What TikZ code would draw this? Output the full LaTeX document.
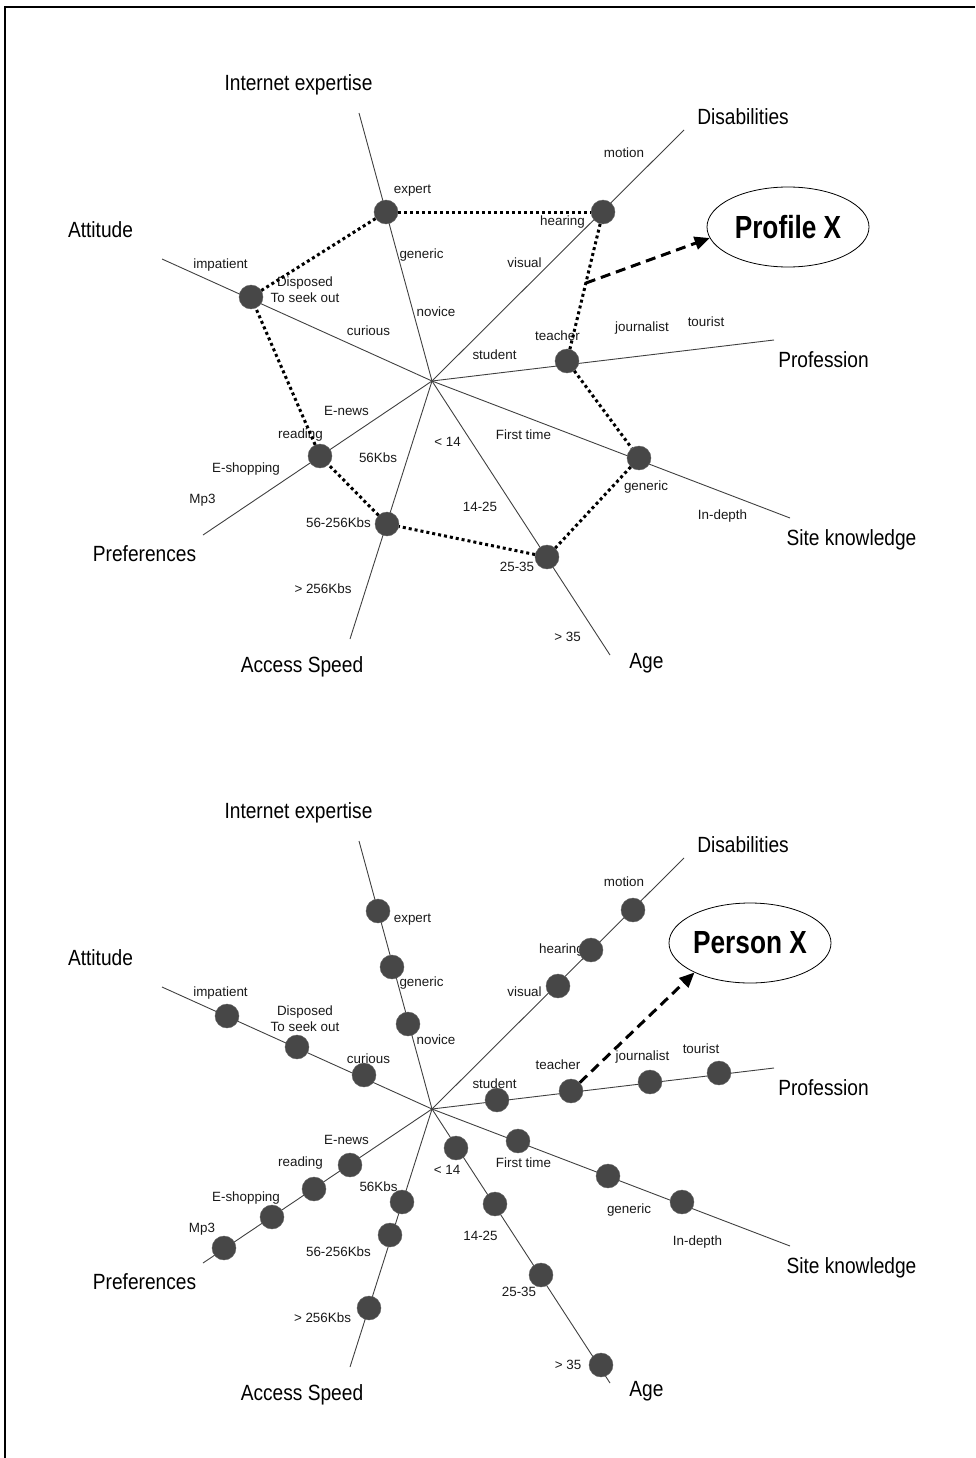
\documentclass[tikz,border=0pt]{standalone}
\usepackage{fontspec}
\setmainfont{Liberation Sans}
\newfontfamily\narrowfont[FakeStretch=0.87]{Liberation Sans}
\newfontfamily\titlefont[FakeStretch=0.82]{Liberation Sans}
\usetikzlibrary{shapes.geometric,arrows.meta,calc}
\begin{document}
\begin{tikzpicture}[x=1pt,y=-1pt,
  axis/.style={draw=black!75,line width=0.9pt},
  dot/.style={circle,fill=black!72,draw=black!60,line width=0.4pt,minimum size=24pt,inner sep=0pt},
  small/.style={font=\fontsize{13.4}{16}\selectfont,inner sep=0pt,text=black!90,align=center},
  big/.style={font=\narrowfont\fontsize{22}{26}\selectfont,inner sep=0pt},
  profile/.style={ellipse,draw,line width=0.8pt,minimum width=162pt,minimum height=80pt,inner sep=0pt,
    font=\titlefont\bfseries\fontsize{32}{36}\selectfont},
  link/.style={line width=3pt,dash pattern=on 3pt off 3pt},
  pointer/.style={line width=3pt,dash pattern=on 10pt off 6pt,-{Triangle[length=15pt,width=13pt]}}
]
\useasboundingbox (0,0) rectangle (975,1458);
% frame
\draw[line width=2pt] (5,1458) -- (5,7) -- (975,7);

% ---------- upper diagram: user profile ----------
\begin{scope}
\coordinate (aC) at (432,381);
\coordinate (aIE) at (359,113);
\coordinate (aDI) at (684,130);
\coordinate (aPR) at (774,340);
\coordinate (aSK) at (790,518);
\coordinate (aAG) at (610,655);
\coordinate (aAS) at (350,639);
\coordinate (aPF) at (203,535);
\coordinate (aAT) at (162,259);
\foreach \e in {IE,DI,PR,SK,AG,AS,PF,AT} \draw[axis] (aC) -- (a\e);

\node[big] (aLie) at (298.5,85) {Internet expertise};
\node[big] (aLdi) at (743,117) {Disabilities};
\node[big] (aLat) at (100.5,230) {Attitude};
\node[big] (aLpr) at (823.5,360) {Profession};
\node[big] (aLsk) at (851.5,540) {Site knowledge};
\node[big] (aLag) at (646.5,663) {Age};
\node[big] (aLas) at (302,667) {Access Speed};
\node[big] (aLpf) at (144.5,554) {Preferences};

\node[small] (a1) at (624,153) {motion};
\node[small] (a2) at (412.5,191) {expert};
\node[small] (a3) at (562.5,222) {hearing};
\node[small] (a4) at (421.5,255) {generic};
\node[small] (a5) at (524.5,263) {visual};
\node[small] (a6) at (220.5,265) {impatient};
\node[small] (a7) at (305,290) {Disposed\\To seek out};
\node[small] (a8) at (436,312) {novice};
\node[small] (a9) at (368.5,331) {curious};
\node[small] (a10) at (557.5,336) {teacher};
\node[small] (a11) at (494.5,355) {student};
\node[small] (a12) at (642,328) {journalist};
\node[small] (a13) at (706,322) {tourist};
\node[small] (a14) at (346.5,411) {E-news};
\node[small] (a15) at (300.5,435) {reading};
\node[small] (a16) at (447.5,442) {< 14};
\node[small] (a17) at (378,458) {56Kbs};
\node[small] (a18) at (246,469) {E-shopping};
\node[small] (a19) at (523.5,435) {First time};
\node[small] (a20) at (646,487) {generic};
\node[small] (a21) at (202.5,500) {Mp3};
\node[small] (a22) at (480,507) {14-25};
\node[small] (a23) at (722.5,516) {In-depth};
\node[small] (a24) at (338.5,523) {56-256Kbs};
\node[small] (a25) at (517,567) {25-35};
\node[small] (a26) at (323,589) {> 256Kbs};
\node[small] (a27) at (567.5,637) {> 35};

\node[dot] (aEx) at (386,212) {};
\node[dot] (aHe) at (603,212) {};
\node[dot] (aIm) at (251,297) {};
\node[dot] (aTe) at (567,361) {};
\node[dot] (aRe) at (320,456) {};
\node[dot] (aSp) at (387,524) {};
\node[dot] (aAg) at (547,557) {};
\node[dot] (aGe) at (639,458) {};

\draw[link] (aEx) -- (aHe);
\draw[link] (aHe) -- (aTe);
\draw[link] (aTe) -- (aGe);
\draw[link] (aGe) -- (aAg);
\draw[link] (aAg) -- (aSp);
\draw[link] (aSp) -- (aRe);
\draw[link] (aRe) -- (aIm);
\draw[link] (aIm) -- (aEx);

\node[profile] (aPX) at (788,227) {Profile X};
\coordinate (aM) at ($(aHe)!0.477!(aTe)$);
\draw[pointer] (aM) -- (aPX.188);
\end{scope}

% ---------- lower diagram: individual user ----------
\begin{scope}[shift={(0,728)}]
\coordinate (bC) at (432,381);
\coordinate (bIE) at (359,113);
\coordinate (bDI) at (684,130);
\coordinate (bPR) at (774,340);
\coordinate (bSK) at (790,518);
\coordinate (bAG) at (610,655);
\coordinate (bAS) at (350,639);
\coordinate (bPF) at (203,535);
\coordinate (bAT) at (162,259);
\foreach \e in {IE,DI,PR,SK,AG,AS,PF,AT} \draw[axis] (bC) -- (b\e);

\node[big] (bLie) at (298.5,85) {Internet expertise};
\node[big] (bLdi) at (743,117) {Disabilities};
\node[big] (bLat) at (100.5,230) {Attitude};
\node[big] (bLpr) at (823.5,360) {Profession};
\node[big] (bLsk) at (851.5,540) {Site knowledge};
\node[big] (bLag) at (646.5,663) {Age};
\node[big] (bLas) at (302,667) {Access Speed};
\node[big] (bLpf) at (144.5,554) {Preferences};

\node[small] (b1) at (624,154) {motion};
\node[small] (b2) at (412.5,192) {expert};
\node[small] (b3) at (561.5,222) {hearing};
\node[small] (b4) at (421.5,255) {generic};
\node[small] (b5) at (524.5,264) {visual};
\node[small] (b6) at (220.5,265) {impatient};
\node[small] (b7) at (305,291) {Disposed\\To seek out};
\node[small] (b8) at (436,312) {novice};
\node[small] (b9) at (368.5,331) {curious};
\node[small] (b10) at (558,337) {teacher};
\node[small] (b11) at (494.5,356) {student};
\node[small] (b12) at (642.5,329) {journalist};
\node[small] (b13) at (701,321) {tourist};
\node[small] (b14) at (346.5,412) {E-news};
\node[small] (b15) at (300.5,435) {reading};
\node[small] (b16) at (447,442) {< 14};
\node[small] (b17) at (378.5,459) {56Kbs};
\node[small] (b18) at (246,470) {E-shopping};
\node[small] (b19) at (523.5,435) {First time};
\node[small] (b20) at (629,482) {generic};
\node[small] (b21) at (202,501) {Mp3};
\node[small] (b22) at (480.5,508) {14-25};
\node[small] (b23) at (697.5,514) {In-depth};
\node[small] (b24) at (338.5,524) {56-256Kbs};
\node[small] (b25) at (519,564) {25-35};
\node[small] (b26) at (322.5,590) {> 256Kbs};
\node[small] (b27) at (568,637) {> 35};

% values on each axis
\node[dot] (bIe1) at (378,183) {};
\node[dot] (bIe2) at (392,239) {};
\node[dot] (bIe3) at (408,296) {};
\node[dot] (bAt1) at (227,288) {};
\node[dot] (bAt2) at (297,319) {};
\node[dot] (bAt3) at (364,347) {};
\node[dot] (bDi1) at (633,182) {};
\node[dot] (bDi2) at (591,222) {};
\node[dot] (bDi3) at (558,258) {};
\node[dot] (bPr1) at (497,372) {};
\node[dot] (bPr2) at (571,363) {};
\node[dot] (bPr3) at (650,354) {};
\node[dot] (bPr4) at (719,345) {};
\node[dot] (bPf1) at (350,437) {};
\node[dot] (bPf2) at (314,461) {};
\node[dot] (bPf3) at (272,489) {};
\node[dot] (bPf4) at (224,520) {};
\node[dot] (bAs1) at (402,474) {};
\node[dot] (bAs2) at (390,507) {};
\node[dot] (bAs3) at (369,580) {};
\node[dot] (bAg1) at (456,420) {};
\node[dot] (bAg2) at (495,476) {};
\node[dot] (bAg3) at (541,547) {};
\node[dot] (bAg4) at (601,637) {};
\node[dot] (bSk1) at (518,413) {};
\node[dot] (bSk2) at (608,448) {};
\node[dot] (bSk3) at (682,474) {};

\node[profile] (bPX) at (750,215) {Person X};
\draw[pointer] (bPr2) -- (bPX.208);
\end{scope}
\end{tikzpicture}
\end{document}
